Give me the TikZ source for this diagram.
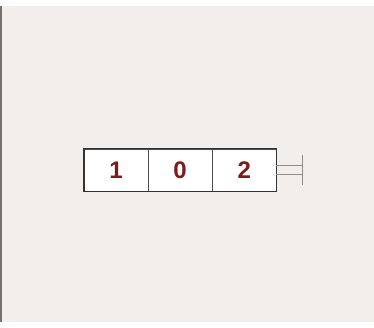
\documentclass[tikz,border=0pt]{standalone}
\usepackage{fontspec}
\setmainfont{Liberation Sans}
\usepackage{xcolor}
\usetikzlibrary{positioning}

\definecolor{paper}{HTML}{F1EEEB}
\definecolor{digitred}{HTML}{7E1A1A}

\begin{document}
\begin{tikzpicture}[
  x=1pt, y=1pt,
  node distance=0pt,
  cell/.style={draw=black!70, fill=white, minimum width=63.7pt, minimum height=42pt, inner sep=0pt,
    font=\fontsize{24}{24}\selectfont\bfseries, text=digitred},
  rail/.style={draw=black!45, line width=1pt}
]
  % page and background
  \useasboundingbox (0,0) rectangle (374,327);
  \fill[white] (0,0) rectangle (374,327);
  \fill[paper] (1.5,5) rectangle (374,321);
  \fill[black!55] (0,5) rectangle (1.5,321);

  % the three cells
  \node[cell, anchor=west] (c1) at (84,157) {1};
  \node[cell, right=of c1] (c2) {0};
  \node[cell, right=of c2] (c3) {2};
  \draw[black!80, line width=1.2pt] (c1.north west) rectangle (c3.south east);

  % end stop
  \coordinate[right=26pt of c3.east] (stop);
  \draw[rail] ([yshift=4.7pt]c3.east) -- ([yshift=4.7pt]stop);
  \draw[rail] ([yshift=-4.7pt]c3.east) -- ([yshift=-4.7pt]stop);
  \draw[rail] ([yshift=15pt]stop) -- ([yshift=-15pt]stop);
\end{tikzpicture}
\end{document}
